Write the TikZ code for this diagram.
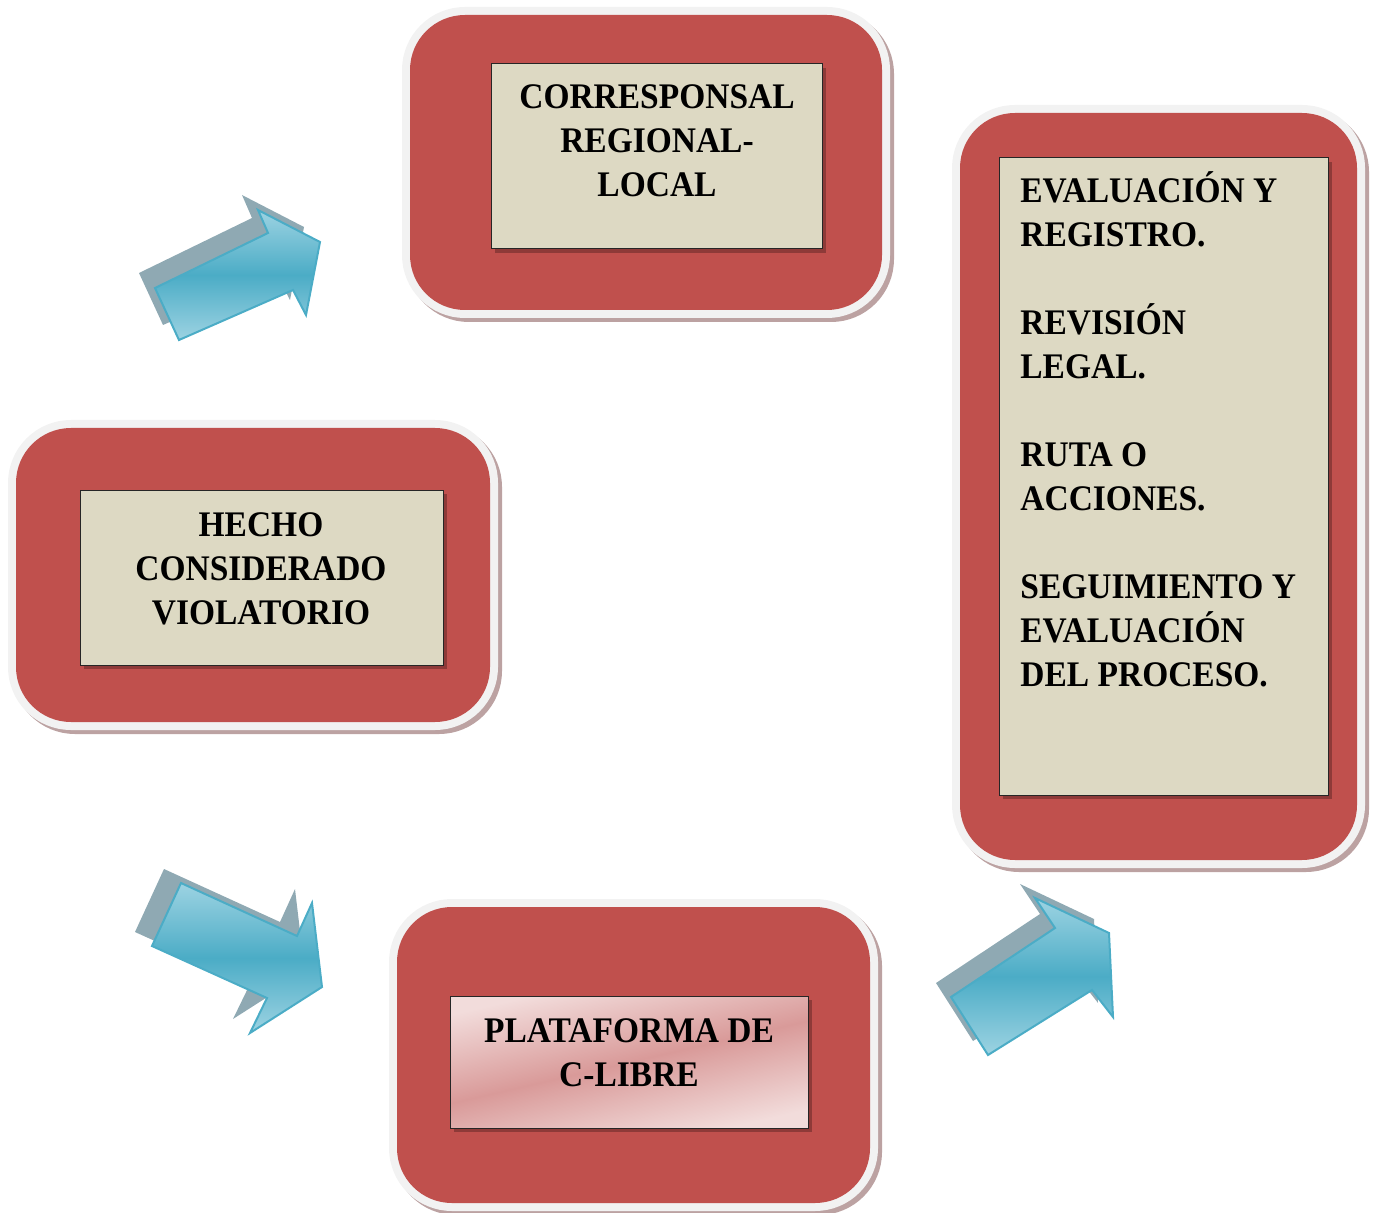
\documentclass[tikz,border=0pt]{standalone}
\usepackage{fontspec}
\setmainfont{Liberation Serif}[FakeStretch=0.93]
\definecolor{redbox}{HTML}{C0504D}
\definecolor{framec}{HTML}{F2F2F2}
\definecolor{frameshadow}{HTML}{BCA2A2}
\definecolor{beige}{HTML}{DDD9C3}
\definecolor{innershadow}{HTML}{8E3A38}
\definecolor{arrowlight}{HTML}{9DD3E2}
\definecolor{arrowdark}{HTML}{4BACC6}
\definecolor{arrowshadow}{HTML}{8FA9B3}
\definecolor{pinkL}{HTML}{F2DCDB}
\definecolor{pinkD}{HTML}{D99A99}
\tikzset{
  redcard/.style={rectangle, fill=redbox, rounded corners=27.5pt, inner sep=0pt,
    preaction={draw=frameshadow, line width=8pt, transform canvas={shift={(2pt,-2pt)}}},
    preaction={draw=framec, line width=8pt}},
  innerbox/.style={rectangle, fill=beige, draw=black!85, line width=0.5pt, inner sep=0pt,
    preaction={fill=innershadow, transform canvas={shift={(2pt,-2pt)}}}},
  cardtext/.style={font=\bfseries\fontsize{18}{22}\selectfont, inner sep=0pt, align=center},
  arrowshape/.style={draw=arrowdark, line width=1pt, top color=arrowlight, bottom color=arrowlight, middle color=arrowdark},
  arrowshade/.style={fill=arrowshadow}
}
\begin{document}
\begin{tikzpicture}[x=0.5pt,y=-0.5pt]
\useasboundingbox (0,0) rectangle (1374,1213);
% red cards
\node[redcard, minimum width=236pt, minimum height=147.5pt] (r1) at (646,162.5) {};
\node[redcard, minimum width=237pt, minimum height=147pt] (r2) at (253,575) {};
\node[redcard, minimum width=198.5pt, minimum height=373.5pt] (r3) at (1158.5,486.5) {};
\node[redcard, minimum width=236.5pt, minimum height=148pt] (r4) at (633.5,1055) {};
% inner boxes
\node[innerbox, minimum width=165.5pt, minimum height=92.5pt] (i1) at (656.5,156.5) {};
\node[innerbox, minimum width=181.5pt, minimum height=87.5pt] (i2) at (261.5,577.5) {};
\node[innerbox, minimum width=164.5pt, minimum height=318.5pt] (i3) at (1163.5,476.5) {};
\node[innerbox, minimum width=179pt, minimum height=66pt, top color=pinkL, bottom color=pinkL, middle color=pinkD, shading angle=13] (i4) at (629,1062) {};
% texts
\node[cardtext, anchor=base] (t1) at (657,197) {CORRESPONSAL\\REGIONAL-\\LOCAL};
\node[cardtext, anchor=base] (t2) at (261,624) {HECHO\\CONSIDERADO\\VIOLATORIO};
\node[cardtext, anchor=base] (t4) at (629,1086) {PLATAFORMA DE\\C-LIBRE};
\node[cardtext, align=left, anchor=base west] (t3) at (1020,686) {EVALUACIÓN Y\\REGISTRO.\\[22pt]REVISIÓN\\LEGAL.\\[22pt]RUTA O\\ACCIONES.\\[22pt]SEGUIMIENTO Y\\EVALUACIÓN\\DEL PROCESO.};
% arrow 1
\begin{scope}[shift={(-16,-15)}]
\fill[arrowshade] (179,340) -- (155,288) -- (268,233) -- (258,210) -- (320,242) -- (306,315) -- (293,290) -- cycle;
\end{scope}
\path[arrowshape] (179,340) -- (155,288) -- (268,233) -- (258,210) -- (320,242) -- (306,315) -- (293,290) -- cycle;
% arrow 2
\begin{scope}[shift={(-17,-14)}]
\fill[arrowshade] (181,883) -- (297,936) -- (312,903) -- (322,987) -- (250,1033) -- (267,998) -- (152,946) -- cycle;
\end{scope}
\path[arrowshape] (181,883) -- (297,936) -- (312,903) -- (322,987) -- (250,1033) -- (267,998) -- (152,946) -- cycle;
% arrow 3
\begin{scope}[shift={(-15,-14)}]
\fill[arrowshade] (951,997) -- (1055,928) -- (1035,898) -- (1109,933) -- (1113,1017) -- (1092,990) -- (988,1055) -- cycle;
\end{scope}
\path[arrowshape] (951,997) -- (1055,928) -- (1035,898) -- (1109,933) -- (1113,1017) -- (1092,990) -- (988,1055) -- cycle;
\end{tikzpicture}
\end{document}
